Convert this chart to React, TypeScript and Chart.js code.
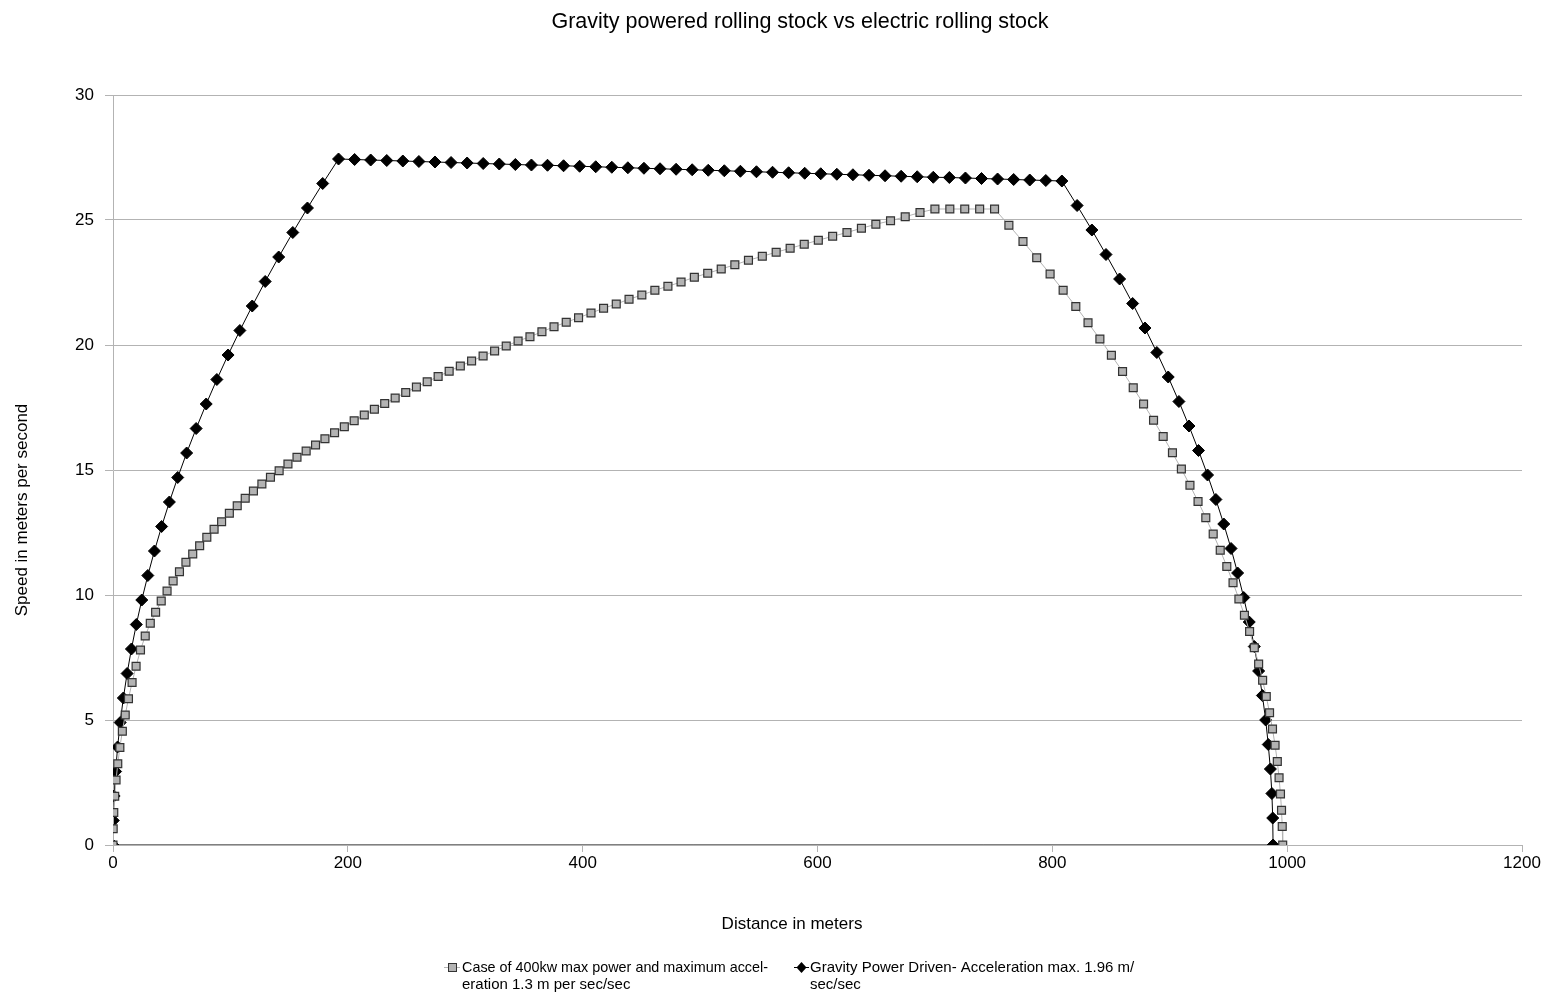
import React, { useEffect, useRef } from "react";
import { Chart, registerables } from "chart.js";

Chart.register(...registerables);

const chartTitle = "Gravity powered rolling stock vs electric rolling stock";
const xAxisTitle = "Distance in meters";
const yAxisTitle = "Speed in meters per second";
const electricLegend = ["Case of 400kw max power and maximum accel-", "eration 1.3 m per sec/sec"];
const gravityLegend = ["Gravity Power Driven- Acceleration max. 1.96 m/", "sec/sec"];

const xTicks = [0, 200, 400, 600, 800, 1000, 1200];
const yTicks = [0, 5, 10, 15, 20, 25, 30];

// Electric (400 kW) series
const electricDistance = [
  0, 0.16, 0.65, 1.46, 2.6, 4.06, 5.85, 7.96, 10.4, 13.16, 16.25, 19.66, 23.4,
  27.44, 31.75, 36.3, 41.07, 46.05, 51.2, 56.6, 62.1, 67.9, 73.8, 79.9, 86.1,
  92.5, 99.1, 105.8, 112.6, 119.6, 126.8, 134.1, 141.5, 149.0, 156.7, 164.5,
  172.5, 180.5, 188.7, 197.0, 205.4, 214.0, 222.6, 231.4, 240.3, 249.3, 258.4,
  267.6, 276.9, 286.3, 295.8, 305.4, 315.2, 325.0, 334.9, 345.0, 355.1, 365.3,
  375.6, 386.0, 396.5, 407.1, 417.8, 428.6, 439.5, 450.4, 461.5, 472.6, 483.8,
  495.1, 506.5, 518.0, 529.6, 541.2, 553.0, 564.8, 576.7, 588.7, 600.7, 612.9,
  625.1, 637.4, 649.7, 662.2, 674.7, 687.3, 700.0, 712.7, 725.4, 738.1, 750.8,
  763.0, 775.0, 786.7, 798.1, 809.2, 820.0, 830.4, 840.5, 850.3, 859.8, 868.9,
  877.7, 886.2, 894.4, 902.3, 909.9, 917.2, 924.1, 930.7, 937.0, 943.0, 948.6,
  953.9, 958.9, 963.6, 968.0, 972.0, 975.7, 979.1, 982.2, 985.0, 987.5, 989.7,
  991.6, 993.1, 994.3, 995.2, 995.8, 996.2,
];
const electricSpeed = [
  0, 0.65, 1.3, 1.95, 2.6, 3.25, 3.9, 4.55, 5.2, 5.85, 6.5, 7.15, 7.8,
  8.36, 8.87, 9.31, 9.76, 10.16, 10.56, 10.93, 11.31, 11.64, 11.97, 12.31, 12.63,
  12.93, 13.27, 13.57, 13.87, 14.16, 14.44, 14.71, 14.97, 15.24, 15.51, 15.76,
  16.0, 16.25, 16.49, 16.73, 16.97, 17.2, 17.43, 17.66, 17.88, 18.1, 18.32,
  18.53, 18.74, 18.95, 19.16, 19.36, 19.56, 19.76, 19.96, 20.16, 20.33, 20.53,
  20.73, 20.91, 21.09, 21.28, 21.47, 21.64, 21.83, 22.0, 22.19, 22.35, 22.52,
  22.71, 22.87, 23.04, 23.21, 23.39, 23.55, 23.71, 23.87, 24.03, 24.19, 24.35,
  24.5, 24.67, 24.83, 24.97, 25.13, 25.3, 25.44, 25.44, 25.44, 25.44, 25.44,
  24.79, 24.14, 23.49, 22.84, 22.19, 21.54, 20.89, 20.24, 19.59, 18.94, 18.29,
  17.64, 16.99, 16.34, 15.69, 15.04, 14.39, 13.74, 13.09, 12.44, 11.79, 11.14,
  10.49, 9.84, 9.19, 8.54, 7.89, 7.24, 6.59, 5.94, 5.29, 4.64, 3.99,
  3.34, 2.69, 2.04, 1.39, 0.74, 0,
];

// Gravity powered series
const gravityDistance = [
  0, 0.25, 0.98, 2.21, 3.92, 6.13, 8.82, 12.01, 15.68, 19.85, 24.5, 29.65, 35.28,
  41.41, 48.02, 55.13, 62.72, 70.81, 79.38, 88.45, 98.0, 108.05, 118.58, 129.61,
  141.12, 153.13, 165.62, 178.61, 192.08,
  205.77, 219.46, 233.15, 246.84, 260.53, 274.22, 287.91, 301.6, 315.29, 328.98,
  342.67, 356.36, 370.05, 383.74, 397.43, 411.12, 424.81, 438.5, 452.19, 465.88,
  479.57, 493.26, 506.95, 520.64, 534.33, 548.02, 561.71, 575.4, 589.09, 602.78,
  616.47, 630.16, 643.85, 657.54, 671.23, 684.92, 698.61, 712.3, 725.99, 739.68,
  753.37, 767.06, 780.75, 794.44, 808.13,
  821.1, 833.7, 845.7, 857.3, 868.4, 878.9, 889.0, 898.7, 907.8, 916.4, 924.5,
  932.2, 939.3, 946.0, 952.2, 957.8, 963.0, 967.7, 972.0, 975.7, 978.9, 981.7,
  983.9, 985.7, 987.0, 987.7, 988.0,
  0,
];
const gravitySpeed = [
  0, 0.98, 1.96, 2.94, 3.92, 4.9, 5.88, 6.86, 7.84, 8.82, 9.8, 10.78, 11.76,
  12.74, 13.72, 14.7, 15.68, 16.66, 17.64, 18.62, 19.6, 20.58, 21.56, 22.54,
  23.52, 24.5, 25.48, 26.46, 27.44,
  27.42, 27.4, 27.38, 27.36, 27.34, 27.32, 27.3, 27.28, 27.26, 27.24,
  27.22, 27.2, 27.19, 27.17, 27.15, 27.13, 27.11, 27.09, 27.07, 27.05,
  27.03, 27.01, 26.99, 26.97, 26.95, 26.93, 26.91, 26.89, 26.87, 26.85,
  26.83, 26.81, 26.79, 26.77, 26.75, 26.73, 26.71, 26.7, 26.68, 26.66,
  26.64, 26.62, 26.6, 26.58, 26.56,
  25.58, 24.6, 23.62, 22.64, 21.66, 20.68, 19.7, 18.72, 17.74, 16.76, 15.78,
  14.8, 13.82, 12.84, 11.86, 10.88, 9.9, 8.92, 7.94, 6.96, 5.98, 5.0,
  4.02, 3.04, 2.06, 1.08, 0,
  0,
];

const FONT = "'Liberation Sans', Arial, sans-serif";
const GRID = "#b3b3b3";

const annotations = {
  id: "annotations",
  afterDraw(chart: any) {
    const ctx = chart.ctx as CanvasRenderingContext2D;
    ctx.save();
    ctx.fillStyle = "#000";
    ctx.textBaseline = "middle";
    // title
    ctx.font = `21.5px ${FONT}`;
    ctx.textAlign = "center";
    ctx.fillText(chartTitle, 800, 22, 510);
    // x title
    ctx.font = `17px ${FONT}`;
    ctx.fillText(xAxisTitle, 792, 924, 157);
    // y title
    ctx.save();
    ctx.translate(22, 510);
    ctx.rotate(-Math.PI / 2);
    ctx.fillText(yAxisTitle, 0, 0, 237);
    ctx.restore();

    // legend
    ctx.font = `15px ${FONT}`;
    ctx.textAlign = "left";
    // item 1
    ctx.strokeStyle = GRID;
    ctx.lineWidth = 1;
    ctx.beginPath();
    ctx.moveTo(444, 967.5);
    ctx.lineTo(460, 967.5);
    ctx.stroke();
    ctx.fillStyle = GRID;
    ctx.fillRect(448.5, 963.5, 8, 8);
    ctx.strokeStyle = "#333";
    ctx.strokeRect(448.5, 963.5, 8, 8);
    ctx.fillStyle = "#000";
    ctx.fillText(electricLegend[0], 462, 968, 306);
    ctx.fillText(electricLegend[1], 462, 985, 170);
    // item 2
    ctx.strokeStyle = "#000";
    ctx.beginPath();
    ctx.moveTo(794, 967.5);
    ctx.lineTo(809, 967.5);
    ctx.stroke();
    ctx.beginPath();
    ctx.moveTo(801.5, 962);
    ctx.lineTo(806.5, 967.5);
    ctx.lineTo(801.5, 973);
    ctx.lineTo(796.5, 967.5);
    ctx.closePath();
    ctx.fill();
    ctx.fillText(gravityLegend[0], 810, 968, 333);
    ctx.fillText(gravityLegend[1], 810, 985, 56);
    ctx.restore();
  },
};

export default function App() {
  const ref = useRef<HTMLCanvasElement | null>(null);

  useEffect(() => {
    document.body.style.margin = "0";
    const canvas = ref.current;
    if (!canvas) return;
    const electricData = electricDistance.map((x, i) => ({ x, y: electricSpeed[i] }));
    const gravityData = gravityDistance.map((x, i) => ({ x, y: gravitySpeed[i] }));

    const chart = new Chart(canvas, {
      type: "scatter",
      data: {
        datasets: [
          {
            label: electricLegend.join(""),
            data: electricData,
            showLine: true,
            borderColor: GRID,
            borderWidth: 1,
            pointStyle: "rect",
            pointRadius: 5.6,
            pointBackgroundColor: GRID,
            pointBorderColor: "#333",
            pointBorderWidth: 1.2,
            tension: 0,
          },
          {
            label: gravityLegend.join(""),
            data: gravityData,
            showLine: true,
            borderColor: "#000",
            borderWidth: 1,
            pointStyle: "rectRot",
            pointRadius: 6,
            pointBackgroundColor: "#000",
            pointBorderColor: "#000",
            pointBorderWidth: 1,
            tension: 0,
          },
        ],
      },
      options: {
        responsive: false,
        animation: false,
        layout: { padding: { left: 0, top: 95, right: 36, bottom: 0 } },
        plugins: {
          legend: { display: false },
          title: { display: false },
          tooltip: { enabled: false },
        },
        scales: {
          x: {
            type: "linear",
            min: 0,
            max: 1200,
            afterBuildTicks: (s: any) => {
              s.ticks = xTicks.map((v) => ({ value: v }));
            },
            afterFit: (s: any) => {
              s.height = 1007 - 845;
            },
            border: { display: true, color: GRID },
            grid: { display: true, drawOnChartArea: false, drawTicks: true, tickLength: 7, color: GRID },
            ticks: {
              color: "#000",
              font: { family: FONT, size: 17 },
              padding: 1,
              maxRotation: 0,
              callback: (v: any) => String(v),
            },
          },
          y: {
            type: "linear",
            min: 0,
            max: 30,
            afterBuildTicks: (s: any) => {
              s.ticks = yTicks.map((v) => ({ value: v }));
            },
            afterFit: (s: any) => {
              s.width = 113;
            },
            border: { display: true, color: GRID },
            grid: { display: true, color: GRID, tickLength: 8 },
            ticks: {
              color: "#000",
              font: { family: FONT, size: 17 },
              padding: 11,
              callback: (v: any) => String(v),
            },
          },
        },
      },
      plugins: [annotations],
    });
    return () => chart.destroy();
  }, []);

  return <canvas ref={ref} width={1558} height={1007} style={{ display: "block" }} />;
}
